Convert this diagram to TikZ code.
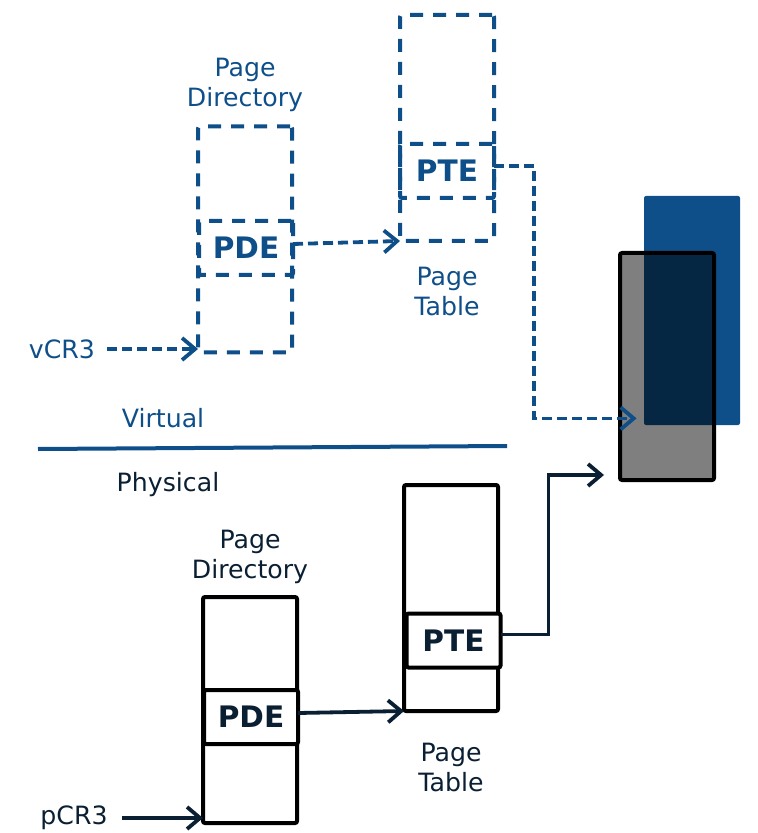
\documentclass[tikz,border=0pt]{standalone}
\usepackage{fontspec}
\setmainfont{DejaVu Sans}
\usetikzlibrary{arrows.meta,positioning}
\definecolor{virtblue}{HTML}{0E4F8A}
\definecolor{physink}{HTML}{0B1F33}

\begin{document}
\begin{tikzpicture}[
  x=0.5pt, y=-0.5pt,
  table/.style={draw, rectangle, rounded corners=1pt, minimum width=47pt, minimum height=113pt, inner sep=0pt, outer sep=0pt, line width=2pt},
  entry/.style={draw, rectangle, rounded corners=1pt, minimum width=47pt, minimum height=27pt, inner sep=0pt, outer sep=0pt, line width=2pt, font=\fontsize{14.8}{16}\selectfont\bfseries},
  caption/.style={font=\fontsize{12.6}{15}\selectfont, align=center, inner sep=0pt},
  label/.style={font=\fontsize{12.6}{15}\selectfont, inner sep=0pt},
  virt/.style={draw=virtblue, text=virtblue, dash pattern=on 6.5pt off 5pt},
  phys/.style={draw=black, text=physink},
  link/.style={-{Straight Barb[length=6.5pt,width=11pt]}, line width=1.9pt},
  vlink/.style={link, draw=virtblue, dash pattern=on 5pt off 2.5pt},
  plink/.style={link, draw=physink},
]
\useasboundingbox (0,0) rectangle (757,833);

% Virtual side (guest tables)
\node[table, virt] (vpd) at (245,239.5) {};
\node[entry, virt] (vpde) at (246,248) {PDE};
\node[caption, text=virtblue, above=7pt of vpd] (vpdlbl) {Page\\Directory};
\node[table, virt] (vpt) at (447,128) {};
\node[entry, virt] (vpte) at (447,171) {PTE};
\node[caption, text=virtblue, below=13pt of vpt] (vptlbl) {Page\\Table};
\node[label, text=virtblue] (vcr3) at (62,349) {vCR3};

% Memory pages
\node[draw=none, fill=virtblue, rounded corners=1pt, minimum width=48pt, minimum height=114.5pt, inner sep=0pt] (vpage) at (692,310.5) {};
\node[draw=black, line width=2pt, fill=black, fill opacity=0.5, rounded corners=1pt, minimum width=47pt, minimum height=113.5pt, inner sep=0pt] (ppage) at (667,366.5) {};

% Boundary between the two address spaces
\node[label, text=virtblue] (virtlbl) at (163,418) {Virtual};
\draw[virtblue, line width=2pt] (38,449) -- (507,446);
\node[label, text=physink] (physlbl) at (168,485) {Physical};

% Physical side (host tables)
\node[table, phys] (ppd) at (250,710) {};
\node[entry, phys, fill=white] (ppde) at (251,717) {PDE};
\node[caption, text=physink, above=6.5pt of ppd] (ppdlbl) {Page\\Directory};
\node[table, phys] (ppt) at (451,598) {};
\node[entry, phys, fill=white] (ppte) at (453.5,640.5) {PTE};
\node[caption, text=physink, below=16pt of ppt] (pptlbl) {Page\\Table};
\node[label, text=physink] (pcr3) at (74,818) {pCR3};

% Walks
\draw[vlink] ([xshift=6pt]vcr3.east) -- (vcr3.east -| vpd.west);
\draw[vlink] ([yshift=2pt]vpde.east) -- (vpt.south west);
\draw[vlink] ([yshift=2.5pt]vpte.east) -- ++(20pt,0) |- ([xshift=-3.5pt,yshift=3.5pt]vpage.south west);
\draw[plink] ([xshift=7pt]pcr3.east) -- (pcr3.east -| ppd.west);
\draw[plink] ([yshift=2pt]ppde.east) -- (ppt.south west);
\draw[plink] ([yshift=3pt]ppte.east) -- ++(24pt,0) |- ([xshift=-7pt,yshift=3.5pt]ppage.south west);

\end{tikzpicture}
\end{document}
